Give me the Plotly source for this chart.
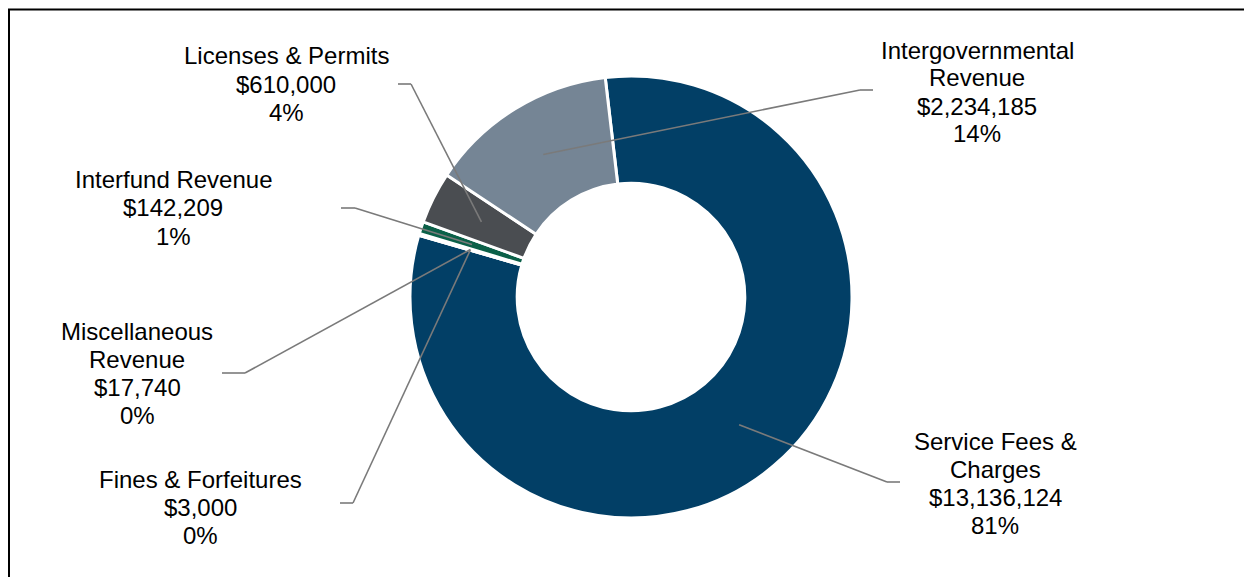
import math
import plotly.graph_objects as go

W, H = 1252, 577
OFF = 8  # page body margin in the browser

# ---- data ----
categories = ["Service Fees & Charges", "Fines & Forfeitures", "Miscellaneous Revenue",
              "Interfund Revenue", "Licenses & Permits", "Intergovernmental Revenue"]
values = [13136124, 3000, 17740, 142209, 610000, 2234185]
label_lines = [
    ["Service Fees &", "Charges"],
    ["Fines & Forfeitures"],
    ["Miscellaneous", "Revenue"],
    ["Interfund Revenue"],
    ["Licenses & Permits"],
    ["Intergovernmental", "Revenue"],
]
colors = ["#023F66", "#8FB9A8", "#3C8C78", "#0B6048", "#4A4D51", "#758595"]

# ---- layout constants (pixels, in page coordinates) ----
cx, cy, R = 631, 297, 221
hole = 0.515
rotation = -6.7
label_pos = [
    (995, 442), (200, 480), (137, 332), (173, 181), (286, 57), (977, 51)
]
elbows = [
    ((887, 482), (900, 482)),
    ((353, 503), (340, 503)),
    ((245, 373), (222, 373)),
    ((355, 208), (341, 208)),
    ((411, 84), (398, 84)),
    ((860, 90), (873, 90)),
]
LINE_H = 28


def px(x):
    return (x - OFF) / W


def py(y):
    return 1 - (y - OFF) / H


total = sum(values)

fig = go.Figure()
fig.add_trace(go.Pie(
    labels=categories, values=values, sort=False, direction="clockwise",
    rotation=rotation, hole=hole, textinfo="none", showlegend=False,
    marker=dict(colors=colors, line=dict(color="white", width=3)),
    domain=dict(x=[px(cx - R), px(cx + R)], y=[py(cy + R), py(cy - R)]),
))

shapes = []
annotations = []
r_mid = (R + R * hole) / 2
cum = 0
for i, v in enumerate(values):
    mid = rotation + 360 * (cum + v / 2) / total
    cum += v
    ax = cx + r_mid * math.sin(math.radians(mid))
    ay = cy - r_mid * math.cos(math.radians(mid))
    (ex, ey), (tx, ty) = elbows[i]
    for (x0, y0, x1, y1) in [(ax, ay, ex, ey), (ex, ey, tx, ty)]:
        shapes.append(dict(type="line", xref="paper", yref="paper",
                           x0=px(x0), y0=py(y0), x1=px(x1), y1=py(y1),
                           line=dict(color="#7A7A7A", width=1.6)))
    lines = label_lines[i] + ["${:,}".format(v), "{:.0f}%".format(100 * v / total)]
    lx, ly = label_pos[i]
    for k, t in enumerate(lines):
        annotations.append(dict(text=t, xref="paper", yref="paper",
                                x=px(lx), y=py(ly + k * LINE_H - 1),
                                xanchor="center", yanchor="middle", showarrow=False,
                                font=dict(family="Liberation Sans, Arial", size=24, color="#000000")))

# chart frame (left and top edges visible)
shapes.append(dict(type="line", xref="paper", yref="paper", x0=px(9), x1=px(9),
                   y0=py(9), y1=0, line=dict(color="#000000", width=2)))
shapes.append(dict(type="line", xref="paper", yref="paper", x0=px(8), x1=1,
                   y0=py(9.5), y1=py(9.5), line=dict(color="#000000", width=2)))

fig.update_layout(
    width=W, height=H, margin=dict(l=0, r=0, t=0, b=0),
    paper_bgcolor="white", plot_bgcolor="white",
    shapes=shapes, annotations=annotations,
)

fig.write_html("out.html")
